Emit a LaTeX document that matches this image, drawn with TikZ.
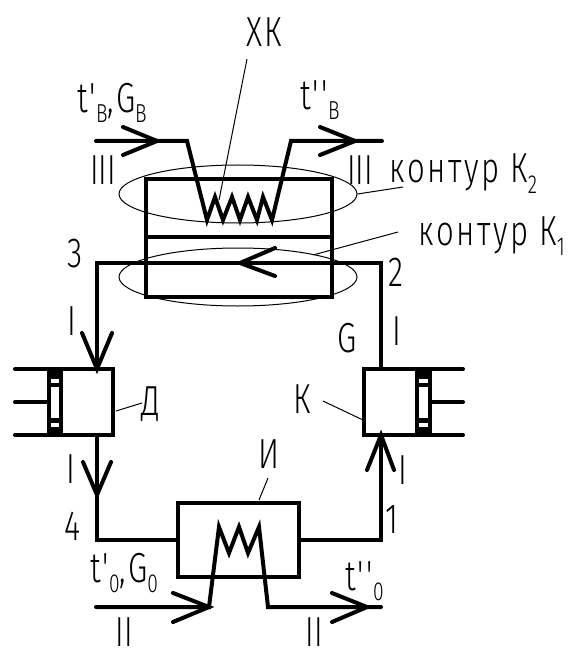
\documentclass[tikz,border=0pt]{standalone}
\usepackage{fontspec}
\setmainfont{Liberation Sans}
\newfontfamily\gost[FakeStretch=0.74,LetterSpace=6]{Fira Sans Light}
\newfontfamily\gostw[FakeStretch=0.72]{Fira Sans Light}
\usetikzlibrary{shapes.geometric}
\newcommand{\subtxt}[2]{\raisebox{-#1pt}{\fontsize{26}{26}\selectfont #2}}
\tikzset{
  heavy/.style={line width=4pt,line join=miter,line cap=round},
  thinln/.style={line width=1pt},
  boxnode/.style={draw,line width=4pt,rectangle,inner sep=0pt,minimum width=#1},
  boxh/.style={minimum height=#1},
  contour/.style={draw,line width=1pt,ellipse,inner sep=0pt,minimum width=238pt,minimum height=58pt},
  lbl/.style={inner sep=0pt,font=\gost\fontsize{42}{42}\selectfont},
  lblw/.style={inner sep=0pt,font=\gostw\fontsize{42}{42}\selectfont}
}
\begin{document}
\begin{tikzpicture}[x=1pt,y=-1pt]
\useasboundingbox (0,0) rectangle (583,668);
% boxes
\node[boxnode=186pt,boxh=118pt] (cooler) at (239,238) {};
\node[boxnode=121pt,boxh=74pt] (evap) at (238.5,540) {};
% junction points
\coordinate (p3) at (97,263); \coordinate (p2) at (381,263);
\coordinate (p4) at (97,540); \coordinate (p1) at (381,540);
\coordinate (dtop) at (97,369); \coordinate (dbot) at (97,435);
\coordinate (ktop) at (381,369); \coordinate (kbot) at (381,435);
\coordinate (midL) at (146,237); \coordinate (midR) at (332,237);
% middle wall of cooler
\draw[heavy] (midL) -- (midR);
% main loop
\draw[heavy] (dtop) -- (p3) -- (p2) -- (ktop);
\draw[heavy] (dbot) -- (p4) -- (evap.west);
\draw[heavy] (evap.east) -- (p1) -- (kbot);
% loop arrows
\draw[heavy] (275,248) -- (240,263) -- (275,276);
\draw[heavy] (82,333) -- (dtop) -- (112,333);
\draw[heavy] (83,462) -- (97,495) -- (111,462);
\draw[heavy] (367,470) -- (kbot) -- (394,470);
% left cylinder
\fill (47,369) rectangle (63,435);
\fill[white] (50.5,379) rectangle (59,383);
\fill[white] (50.5,387) rectangle (59,418);
\fill[white] (50.5,423) rectangle (59,427);
\draw[heavy] (15,369) -- (113,369) -- (113,435) -- (15,435);
\draw[heavy] (15,402) -- (47,402);
% right cylinder
\fill (415,369) rectangle (432,435);
\fill[white] (419,379) rectangle (428,383);
\fill[white] (419,387) rectangle (428,418);
\fill[white] (419,423) rectangle (428,427);
\draw[heavy] (463,369) -- (364,369) -- (364,435) -- (463,435);
\draw[heavy] (432,402) -- (463,402);
% cooler coil
\draw[heavy] (96,141) -- (187,141) -- (207,220) -- (215,197) -- (223,220) -- (232,197) -- (240,220) -- (248,197) -- (257,220) -- (263,197) -- (272,220) -- (291,141) -- (382,141);
\draw[heavy] (123,127) -- (157,141) -- (123,155);
\draw[heavy] (320,127) -- (355,141) -- (320,155);
% evaporator coil
\draw[heavy] (96,607) -- (209,607) -- (219,527) -- (229,553) -- (239,527) -- (248,553) -- (259,527) -- (268,607) -- (381,607);
\draw[heavy] (173,593) -- (209,607) -- (173,622);
\draw[heavy] (332,593) -- (367,607) -- (332,622);
% contours
\node[contour] (k2) at (238,194) {};
\node[contour] (k1) at (238,277) {};
% leaders
\coordinate (xkA) at (247,59); \coordinate (xkB) at (219,200);
\coordinate (k2B) at (403,187); \coordinate (k1A) at (313,255); \coordinate (k1B) at (398,232);
\coordinate (dA) at (116,411); \coordinate (dB) at (142,403);
\coordinate (kA) at (323,401); \coordinate (kB) at (363,420);
\coordinate (iA) at (259,500); \coordinate (iB) at (268,478);
\draw[thinln] (xkA) -- (xkB);
\draw[thinln] (k2.east) -- (k2B);
\draw[thinln] (k1A) -- (k1B);
\draw[thinln] (dA) -- (dB);
\draw[thinln] (kA) -- (kB);
\draw[thinln] (iA) -- (iB);
% labels
\node[lbl,anchor=base] (tXK) at (264,47) {ХК};
\node[lbl,anchor=base west] (tin) at (77,113) {t'\subtxt{10}{В},G\subtxt{10}{В}};
\node[lbl,anchor=base west] (tout) at (300,110) {t''\subtxt{10}{В}};
\node[lblw,anchor=base] (r3a) at (103,185) {III};
\node[lblw,anchor=base] (r3b) at (360,185) {III};
\node[lbl,anchor=base west] (tk2) at (389,183) {контур К\subtxt{10}{2}};
\node[lbl,anchor=base west] (tk1) at (418,245) {контур К\subtxt{10}{1}};
\node[lbl,anchor=base] (n3) at (75,267) {3};
\node[lbl,anchor=base] (n2) at (396,286) {2};
\node[lbl,anchor=base] (r1a) at (72,335) {I};
\node[lbl,anchor=base] (r1b) at (71,483) {I};
\node[lbl,anchor=base] (r1c) at (397,345) {I};
\node[lbl,anchor=base] (r1d) at (403,484) {I};
\node[lbl,anchor=base] (tG) at (347,352) {G};
\node[lbl,anchor=base] (tD) at (151,415) {Д};
\node[lbl,anchor=base] (tK) at (302,413) {К};
\node[lbl,anchor=base] (tI) at (269,468) {И};
\node[lbl,anchor=base] (n4) at (73,540) {4};
\node[lbl,anchor=base] (n1) at (392,533) {1};
\node[lbl,anchor=base west] (t0in) at (90,582) {t'\subtxt{10}{0},G\subtxt{10}{0}};
\node[lbl,anchor=base west] (t0out) at (345,590) {t''\subtxt{10}{0}};
\node[lblw,anchor=base] (r2a) at (124,646) {II};
\node[lblw,anchor=base] (r2b) at (314,646) {II};
\end{tikzpicture}
\end{document}
